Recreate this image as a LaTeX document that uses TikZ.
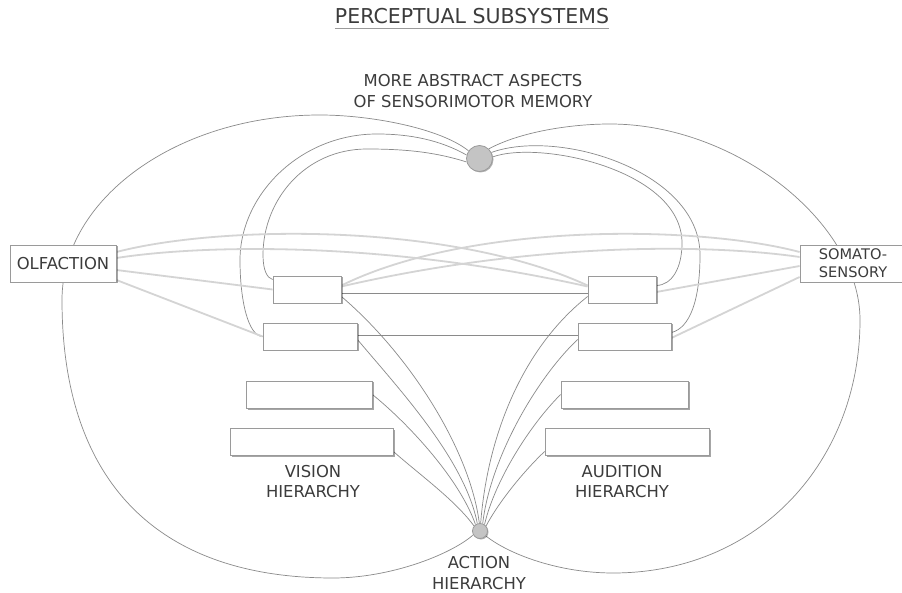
\documentclass[tikz,border=0pt]{standalone}
\usepackage{fontspec}
\setmainfont{DejaVu Sans}
\usetikzlibrary{shadows}
\pgfdeclarelayer{bg}
\pgfsetlayers{bg,main}
\definecolor{cText}{HTML}{3C3C3C}
\definecolor{cLine}{HTML}{8A8A8A}
\definecolor{cFaint}{HTML}{D4D4D4}
\definecolor{cBorder}{HTML}{9A9A9A}
\definecolor{cDot}{HTML}{C4C4C4}
\begin{document}
\begin{tikzpicture}[x=1pt,y=-1pt,
  lbl/.style={font=\fontsize{16.4}{20.5}\selectfont, text=cText, align=center, inner sep=0pt},
  hbox/.style={draw=cBorder, line width=0.8pt, fill=white, minimum height=27pt, inner sep=0pt,
    drop shadow={shadow xshift=1.5pt, shadow yshift=-1.5pt, fill=black, opacity=0.35}},
  sbox/.style={draw=cBorder, line width=0.8pt, fill=white, minimum height=37pt, minimum width=106pt,
    inner sep=0pt, text=cText, align=center,
    drop shadow={shadow xshift=1.5pt, shadow yshift=-1.5pt, fill=black, opacity=0.35}},
  hub/.style={circle, fill=cDot, draw=cBorder, line width=0.8pt, inner sep=0pt,
    drop shadow={shadow xshift=1pt, shadow yshift=-1pt, fill=black, opacity=0.3}},
  lobe/.style={draw=cLine, line width=0.7pt},
  conn/.style={draw=cLine, line width=0.7pt},
  faint/.style={draw=cFaint, line width=1.8pt}
]
\useasboundingbox (0,0) rectangle (902,593);

% title and labels
\node[font=\fontsize{20.5}{24}\selectfont, text=cText, inner sep=0pt, anchor=base] (title) at (472,24) {PERCEPTUAL SUBSYSTEMS};
\draw[cBorder, line width=1.2pt] ([yshift=-4.3pt]title.base west) -- ([yshift=-4.3pt]title.base east);
\node[lbl] (abs) at (473,91) {MORE ABSTRACT ASPECTS\\OF SENSORIMOTOR MEMORY};
\node[lbl] (vis) at (313,481.5) {VISION\\HIERARCHY};
\node[lbl] (aud) at (622,481.5) {AUDITION\\HIERARCHY};
\node[lbl] (act) at (479,573) {ACTION\\HIERARCHY};

% hubs
\node[hub, minimum size=26pt] (tc) at (479.5,158.5) {};
\node[hub, minimum size=15pt] (bc) at (480,531) {};

% sense boxes
\node[sbox, font=\fontsize{16.4}{20.5}\selectfont] (olf) at (63,263.5) {OLFACTION};
\node[sbox, font=\fontsize{14.6}{18}\selectfont] (som) at (853,263.5) {SOMATO-\\SENSORY};

% hierarchy boxes
\node[hbox, minimum width=68pt]  (lb1) at (307,289.5) {};
\node[hbox, minimum width=94pt]  (lb2) at (310,336.5) {};
\node[hbox, minimum width=126pt] (lb3) at (309,394.5) {};
\node[hbox, minimum width=163pt] (lb4) at (311.5,441.5) {};
\node[hbox, minimum width=68pt]  (rb1) at (622,289.5) {};
\node[hbox, minimum width=93pt]  (rb2) at (624.5,336.5) {};
\node[hbox, minimum width=127pt] (rb3) at (624.5,394.5) {};
\node[hbox, minimum width=164pt] (rb4) at (627,441.5) {};

\begin{pgfonlayer}{bg}
\fill[white] (0,0) rectangle (902,593);
% lobes
\draw[lobe] (tc.145) .. controls (440,128) and (370,115) .. (320,115)
  .. controls (178,115) and (62,198) .. (62,300)
  .. controls (62,481) and (157,578) .. (333,578)
  .. controls (390,578) and (450,555) .. (bc.210);
\draw[lobe] (tc.46) .. controls (520,132) and (570,124) .. (610,124)
  .. controls (735,124) and (860,222) .. (860,320)
  .. controls (860,460) and (760,573) .. (613,573)
  .. controls (560,573) and (510,555) .. (bc.320);
% arcs from the upper hub
\draw[conn] (tc.165) .. controls (440,140) and (410,134) .. (377,134)
  .. controls (300,134) and (240,195) .. (240,260)
  .. controls (240,300) and (248,336) .. (lb2.west);
\draw[conn] (tc.195) .. controls (435,152) and (405,149) .. (367,149)
  .. controls (305,149) and (263,200) .. (263,255)
  .. controls (263,270) and (267,278) .. ([yshift=10pt]lb1.west);
\draw[conn] (tc.27) .. controls (560,128) and (700,172) .. (700,255)
  .. controls (700,300) and (690,328) .. ([yshift=4pt]rb2.east);
\draw[conn] (tc.7) .. controls (540,140) and (682,170) .. (682,243)
  .. controls (682,268) and (672,285) .. ([yshift=4pt]rb1.east);
% faint sensory links
\draw[faint] ([yshift=11.5pt]olf.east) .. controls (220,225) and (450,222) .. ([yshift=4pt]rb1.west);
\draw[faint] ([yshift=5.5pt]olf.east) .. controls (200,245) and (380,240) .. ([yshift=3pt]rb1.west);
\draw[faint] ([yshift=-6.5pt]olf.east) -- (lb1.west);
\draw[faint] ([yshift=-16.5pt]olf.east) -- (lb2.west);
\draw[faint] ([yshift=11.5pt]som.west) .. controls (698,225) and (470,222) .. ([yshift=4pt]lb1.east);
\draw[faint] ([yshift=6.5pt]som.west) .. controls (718,245) and (543,240) .. ([yshift=3pt]lb1.east);
\draw[faint] ([yshift=-2.5pt]som.west) -- ([yshift=-2.5pt]rb1.east);
\draw[faint] ([yshift=-13.5pt]som.west) -- ([yshift=-1.5pt]rb2.east);
% horizontal links
\draw[conn] ([yshift=-3.5pt]lb1.east) -- ([yshift=-3.5pt]rb1.west);
\draw[conn] ([yshift=1.5pt]lb2.east) -- ([yshift=1.5pt]rb2.west);
% fan to the lower hub
\draw[conn] ([yshift=-7pt]lb1.east) .. controls (410,355) and (470,450) .. (bc.95);
\draw[conn] ([yshift=-3pt]lb2.east) .. controls (400,390) and (465,460) .. (bc.110);
\draw[conn] (lb3.east) .. controls (410,425) and (460,480) .. (bc.125);
\draw[conn] ([yshift=-10pt]lb4.east) .. controls (420,475) and (455,500) .. (bc.140);
\draw[conn] ([yshift=-7pt]rb1.west) .. controls (520,350) and (487,440) .. (bc.85);
\draw[conn] ([yshift=-3pt]rb2.west) .. controls (535,380) and (490,460) .. (bc.70);
\draw[conn] (rb3.west) .. controls (530,425) and (495,480) .. (bc.55);
\draw[conn] ([yshift=-10pt]rb4.west) .. controls (525,470) and (500,500) .. (bc.40);
\end{pgfonlayer}
\end{tikzpicture}
\end{document}
